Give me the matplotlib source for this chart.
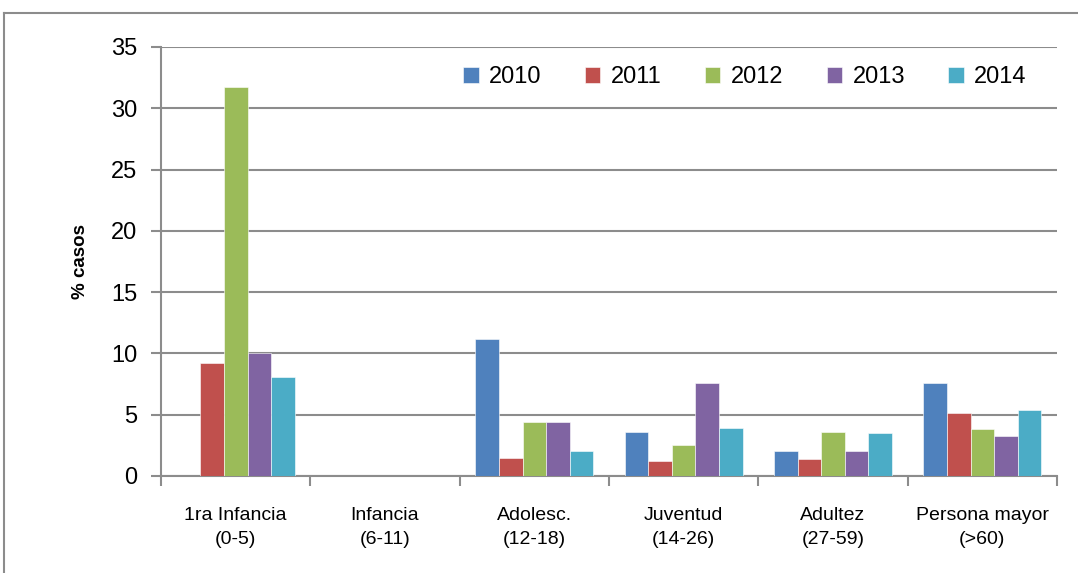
import matplotlib
matplotlib.use("Agg")
import matplotlib.pyplot as plt
import numpy as np
from matplotlib.lines import Line2D

plt.rcParams['font.family'] = ['Liberation Sans', 'DejaVu Sans']

categories = ["1ra Infancia\n(0-5)", "Infancia\n(6-11)", "Adolesc.\n(12-18)",
              "Juventud\n(14-26)", "Adultez\n(27-59)", "Persona mayor\n(>60)"]
years = ["2010", "2011", "2012", "2013", "2014"]
v2010 = [0, 0, 11.2, 3.6, 2.0, 7.6]
v2011 = [9.2, 0, 1.5, 1.2, 1.4, 5.1]
v2012 = [31.7, 0, 4.4, 2.5, 3.6, 3.8]
v2013 = [10.0, 0, 4.4, 7.6, 2.0, 3.3]
v2014 = [8.1, 0, 2.0, 3.9, 3.5, 5.4]
series = [v2010, v2011, v2012, v2013, v2014]
colors = ["#4F81BD", "#C0504D", "#9BBB59", "#8064A2", "#4BACC6"]

fig = plt.figure(figsize=(10.78, 5.73), dpi=100)
ax = fig.add_axes([0.1494, 0.1693, 0.9805 - 0.1494, 0.918 - 0.1693])

x = np.arange(len(categories))
w = 0.158
for i, (vals, c, y) in enumerate(zip(series, colors, years)):
    ax.bar(x + (i - 2) * w, vals, width=w, color=c, label=y,
           edgecolor="white", linewidth=0.4, zorder=3)

ax.set_xlim(-0.5, len(categories) - 0.5)
ax.set_ylim(0, 35)
ax.set_yticks(np.arange(0, 36, 5))
ax.tick_params(axis='y', labelsize=17, length=7, width=1.5, color="#8c8c8c", pad=10)
ax.set_xticks(x)
ax.set_xticklabels(categories, fontsize=14, linespacing=1.6)
ax.tick_params(axis='x', length=0, pad=22)
ax.set_xticks(np.arange(-0.5, len(categories)), minor=True)
ax.tick_params(axis='x', which='minor', length=7, width=1.5, color="#8c8c8c")

ax.yaxis.grid(True, color="#8c8c8c", linewidth=1.5, zorder=0)
ax.set_axisbelow(True)
for s in ["top", "right"]:
    ax.spines[s].set_visible(False)
for s in ["left", "bottom"]:
    ax.spines[s].set_color("#8c8c8c")
    ax.spines[s].set_linewidth(1.5)

ax.set_ylabel("% casos", fontsize=13.5, fontweight="bold", labelpad=16)

ax.legend(ncol=5, loc="upper right", bbox_to_anchor=(0.99, 1.005), frameon=False,
          fontsize=17, handlelength=0.65, handleheight=0.65, columnspacing=1.83,
          handletextpad=0.45)

# outer chart border
fig.add_artist(Line2D([4/1078, 1], [1 - 13/573, 1 - 13/573], color="#8c8c8c", linewidth=1.5,
                      transform=fig.transFigure))
fig.add_artist(Line2D([4/1078, 4/1078], [0, 1 - 13/573], color="#8c8c8c", linewidth=1.5,
                      transform=fig.transFigure))

fig.savefig("out.png", dpi=100)
